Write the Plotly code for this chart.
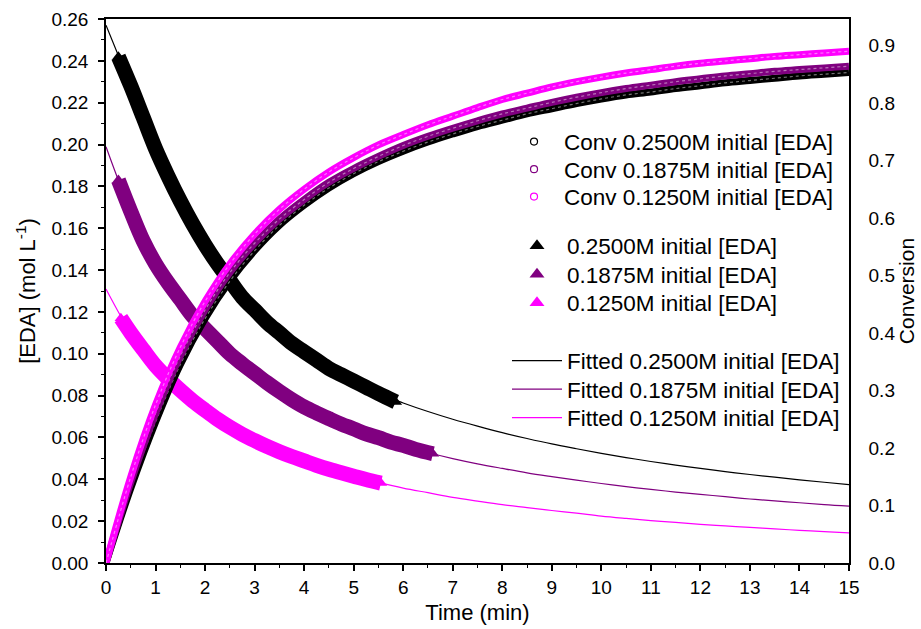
import plotly.graph_objects as go

# ---------------- data ----------------
t_fit = [0, 0.5, 1, 1.5, 2, 2.5, 3, 3.5, 4, 4.5, 5, 5.5, 6, 6.5, 7, 7.5,
         8, 8.5, 9, 9.5, 10, 10.5, 11, 11.5, 12, 12.5, 13, 13.5, 14, 14.5, 15]

fit_0250 = [0.257, 0.228, 0.198, 0.173, 0.152, 0.135, 0.121, 0.110, 0.101, 0.093,
            0.087, 0.081, 0.0765, 0.0724, 0.0687, 0.0654, 0.0623, 0.0595, 0.0569,
            0.0546, 0.0524, 0.0504, 0.0485, 0.0468, 0.0452, 0.0437, 0.0423, 0.0410,
            0.0397, 0.0386, 0.0375]
fit_01875 = [0.199, 0.168, 0.143, 0.126, 0.112, 0.100, 0.0907, 0.0820, 0.0746, 0.0690,
             0.0641, 0.0599, 0.0562, 0.0528, 0.0499, 0.0474, 0.0452, 0.0431, 0.0413,
             0.0396, 0.0380, 0.0365, 0.0352, 0.0339, 0.0328, 0.0317, 0.0306, 0.0297,
             0.0288, 0.0279, 0.0272]
fit_01250 = [0.131, 0.110, 0.0943, 0.0826, 0.0730, 0.0649, 0.0585, 0.0532, 0.0488, 0.0448,
             0.0415, 0.0385, 0.0358, 0.0336, 0.0314, 0.0296, 0.0279, 0.0265, 0.0251,
             0.0238, 0.0224, 0.0213, 0.0203, 0.0194, 0.0185, 0.0177, 0.0170, 0.0163,
             0.0156, 0.0150, 0.0144]

conv_0250 = [0, 0.13, 0.245, 0.345, 0.425, 0.49, 0.543, 0.587, 0.622, 0.652, 0.677,
             0.698, 0.716, 0.732, 0.746, 0.759, 0.770, 0.781, 0.790, 0.799, 0.807,
             0.814, 0.819, 0.825, 0.830, 0.835, 0.839, 0.843, 0.847, 0.850, 0.853]
conv_01875 = [0, 0.14, 0.26, 0.36, 0.44, 0.505, 0.556, 0.598, 0.632, 0.662, 0.686,
              0.707, 0.726, 0.742, 0.756, 0.769, 0.781, 0.791, 0.801, 0.810, 0.818,
              0.825, 0.831, 0.837, 0.842, 0.847, 0.851, 0.855, 0.858, 0.861, 0.864]
conv_01250 = [0, 0.15, 0.275, 0.375, 0.455, 0.52, 0.572, 0.615, 0.65, 0.68, 0.705,
              0.727, 0.745, 0.762, 0.777, 0.792, 0.806, 0.817, 0.828, 0.837, 0.845,
              0.852, 0.858, 0.864, 0.869, 0.873, 0.877, 0.881, 0.884, 0.887, 0.890]

t_m_0250 = [0.25, 0.5, 0.75, 1, 1.25, 1.5, 1.75, 2, 2.25, 2.5, 2.75, 3, 3.25, 3.5,
            3.75, 4, 4.25, 4.5, 4.75, 5, 5.25, 5.5, 5.85]
m_0250 = [0.242, 0.228, 0.213, 0.198, 0.185, 0.173, 0.162, 0.152, 0.143, 0.135, 0.127,
          0.121, 0.115, 0.110, 0.105, 0.101, 0.097, 0.093, 0.090, 0.087, 0.084, 0.081,
          0.077]
t_m_01875 = [0.25, 0.5, 0.75, 1, 1.25, 1.5, 1.75, 2, 2.25, 2.5, 2.75, 3, 3.25, 3.5,
             3.75, 4, 4.25, 4.5, 4.75, 5, 5.25, 5.5, 5.75, 6, 6.25, 6.6]
m_01875 = [0.183, 0.168, 0.154, 0.143, 0.134, 0.126, 0.118, 0.112, 0.106, 0.100, 0.0952,
           0.0907, 0.0862, 0.0820, 0.0781, 0.0746, 0.0717, 0.0690, 0.0664, 0.0641,
           0.0617, 0.0599, 0.0578, 0.0562, 0.0543, 0.0522]
t_m_01250 = [0.3, 0.5, 0.75, 1, 1.25, 1.5, 1.75, 2, 2.25, 2.5, 2.75, 3, 3.25, 3.5,
             3.75, 4, 4.25, 4.5, 4.75, 5, 5.25, 5.55]
m_01250 = [0.117, 0.110, 0.102, 0.0943, 0.0881, 0.0826, 0.0775, 0.0730, 0.0687, 0.0649,
           0.0615, 0.0585, 0.0557, 0.0532, 0.0509, 0.0488, 0.0467, 0.0448, 0.0431,
           0.0415, 0.0399, 0.0382]

labels = ["0.2500M", "0.1875M", "0.1250M"]
colors = ["#000000", "#800080", "#ff00ff"]

FONT = "Arial, Liberation Sans, sans-serif"

fig = go.Figure()

# conversion bands (right axis)
for conv, c in zip([conv_0250, conv_01875, conv_01250], colors):
    fig.add_trace(go.Scatter(x=t_fit, y=conv, yaxis="y2", mode="lines",
                             line=dict(color=c, width=7, shape="spline"),
                             showlegend=False, hoverinfo="skip"))
    fig.add_trace(go.Scatter(x=t_fit, y=conv, yaxis="y2", mode="lines",
                             line=dict(color="white", width=1.2, dash="dot", shape="spline"),
                             opacity=0.45, showlegend=False, hoverinfo="skip"))

# measured [EDA] (dense triangles -> thick band)
for tm, m, c in zip([t_m_0250, t_m_01875, t_m_01250], [m_0250, m_01875, m_01250], colors):
    fig.add_trace(go.Scatter(x=tm, y=m, mode="lines+markers",
                             line=dict(color=c, width=15, shape="spline"),
                             marker=dict(symbol="triangle-up", size=11, color=c),
                             showlegend=False, hoverinfo="skip"))

# fitted lines
for f, c in zip([fit_0250, fit_01875, fit_01250], colors):
    fig.add_trace(go.Scatter(x=t_fit, y=f, mode="lines",
                             line=dict(color=c, width=1.2, shape="spline"),
                             showlegend=False, hoverinfo="skip"))

# legend entries, one legend box per entry so that spacing matches the reference
legend_layout = {}
conv_y = [0.7739, 0.7233, 0.6728]
tri_y = [0.5827, 0.5303, 0.4779]
fit_y = [0.3713, 0.3189, 0.2665]
k = 1


def leg_name(i):
    return "legend" if i == 1 else f"legend{i}"


def add_leg(i, x, y):
    legend_layout[leg_name(i)] = dict(
        x=x, y=y, xanchor="left", yanchor="middle",
        font=dict(family=FONT, size=22.5, color="black"),
        bgcolor="rgba(0,0,0,0)", borderwidth=0, itemwidth=50)


for lab, c, yy in zip(labels, colors, conv_y):
    fig.add_trace(go.Scatter(x=[None], y=[None], mode="markers",
                             marker=dict(symbol="circle-open", size=7, color=c, line=dict(width=1.2)),
                             name=f"Conv {lab} initial [EDA]", legend=leg_name(k)))
    add_leg(k, 0.5357, yy)
    k += 1
for lab, c, yy in zip(labels, colors, tri_y):
    fig.add_trace(go.Scatter(x=[None], y=[None], mode="markers",
                             marker=dict(symbol="triangle-up", size=13, color=c),
                             name=f"{lab} initial [EDA]", legend=leg_name(k)))
    add_leg(k, 0.5397, yy)
    k += 1
for lab, c, yy in zip(labels, colors, fit_y):
    fig.add_trace(go.Scatter(x=[None], y=[None], mode="lines",
                             line=dict(color=c, width=1.2),
                             name=f"Fitted {lab} initial [EDA]", legend=leg_name(k)))
    add_leg(k, 0.5397, yy)
    k += 1

axis_common = dict(showline=True, linecolor="black", linewidth=1.5,
                   showgrid=False, zeroline=False, automargin=False,
                   tickfont=dict(family=FONT, size=19, color="black"),
                   ticks="outside", ticklen=6, tickwidth=1.5, tickcolor="black")

fig.update_layout(
    width=921, height=629,
    margin=dict(l=106, r=72, t=19, b=66),
    plot_bgcolor="white", paper_bgcolor="white",
    font=dict(family=FONT, color="black"),
    xaxis=dict(range=[0, 15], dtick=1, mirror=True,
               minor=dict(dtick=0.5, ticks="outside", ticklen=3.5, tickwidth=1.2, tickcolor="black"),
               title=dict(text="Time (min)", font=dict(family=FONT, size=22), standoff=8),
               **axis_common),
    yaxis=dict(range=[0, 0.26], dtick=0.02, tickformat=".2f", ticklabelstandoff=6,
               minor=dict(dtick=0.01, ticks="outside", ticklen=3.5, tickwidth=1.2, tickcolor="black"),
               title=dict(text="[EDA] (mol L<sup>-1</sup>)", font=dict(family=FONT, size=22), standoff=10),
               **axis_common),
    yaxis2=dict(overlaying="y", side="right", range=[0, 0.946], dtick=0.1, tickformat=".1f",
                showline=True, linecolor="black", linewidth=1.5, showgrid=False, zeroline=False,
                automargin=False, ticks="", ticklabelstandoff=14,
                tickfont=dict(family=FONT, size=19, color="black"),
                title=dict(text="Conversion", font=dict(family=FONT, size=21), standoff=2)),
    **legend_layout,
)

# remove the default page margin so the 921x629 figure fills the window exactly
fig.write_html("out.html", config={"displayModeBar": False},
               post_script="document.body.style.margin='0px';")
